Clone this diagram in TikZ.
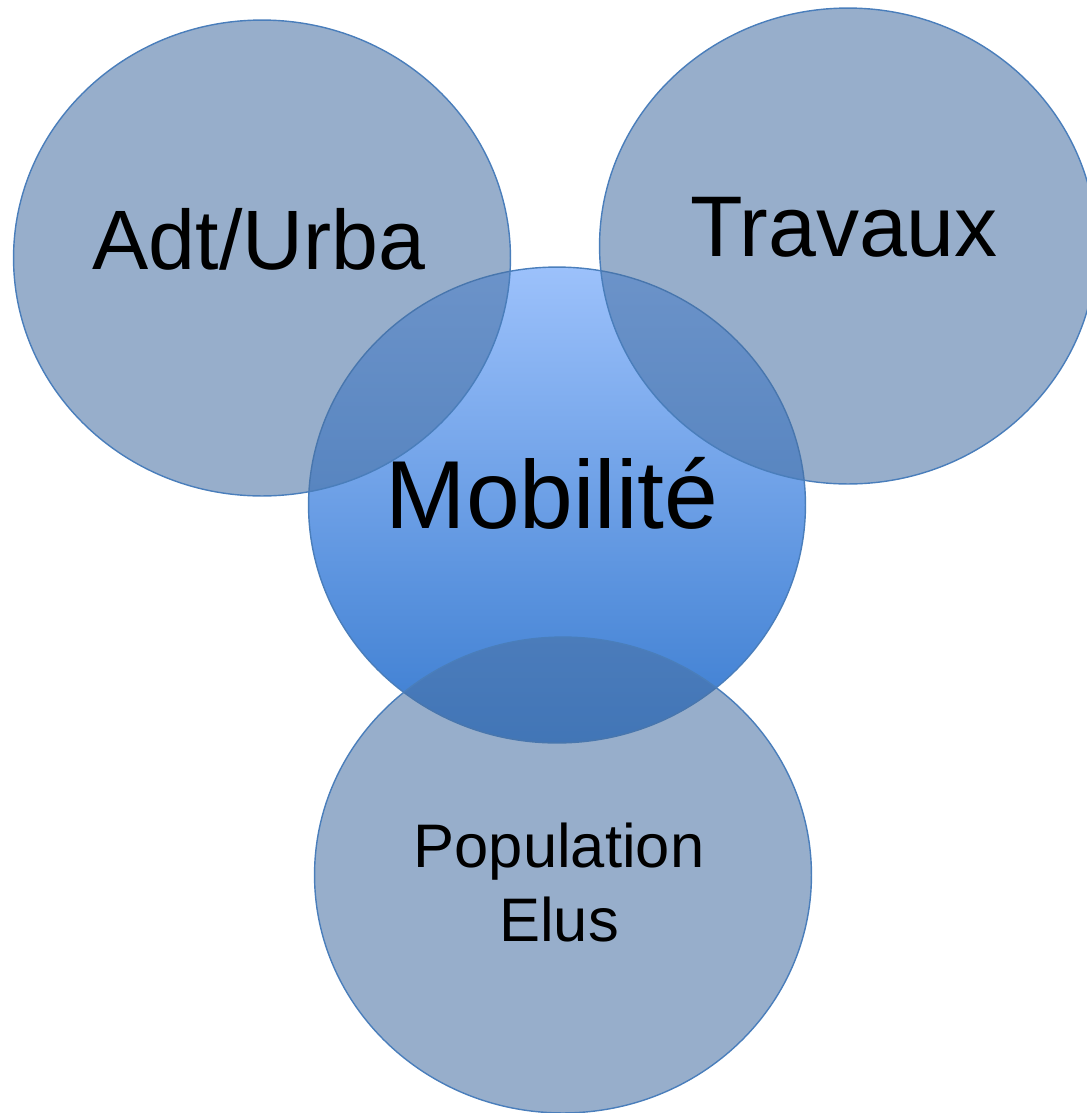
\documentclass[tikz,border=0pt]{standalone}
\usepackage{fontspec}
\setmainfont{Liberation Sans}
\usepackage{tikz}
\usetikzlibrary{shapes,positioning,calc}
\definecolor{vennfill}{RGB}{72,113,164}
\definecolor{vennline}{RGB}{74,126,187}
\definecolor{mobtop}{RGB}{156,193,251}
\definecolor{mobmid}{RGB}{125,168,238}
\definecolor{mobbottom}{RGB}{58,124,208}
\tikzset{
    bubble/.style={ellipse, draw=vennline, line width=0.8pt, fill=vennfill, fill opacity=0.57, inner sep=0pt, minimum width=9.94cm, minimum height=9.52cm},
    hub/.style={ellipse, draw=vennline, line width=0.8pt, top color=mobtop, middle color=mobmid, bottom color=mobbottom, inner sep=0pt, minimum width=9.94cm, minimum height=9.52cm},
    label/.style={anchor=base, text=black, inner sep=0pt, align=center}
}

\begin{document}
\begin{tikzpicture}[x=0.02cm, y=-0.02cm]
    \useasboundingbox (0,0) rectangle (1086,1113);

    % Central circle
    \node [hub] (mob) at (557,505) {};

    % Surrounding circles
    \node [bubble] (adt) at (262,258) {};
    \node [bubble] (trav) at (848,246) {};
    \node [bubble] (pop) at (563,875) {};

    % Labels
    \node [label, font=\fontsize{48}{54}\selectfont] (adtText) at ([shift={(-3,11)}]adt) {Adt/Urba};
    \node [label, font=\fontsize{49}{55}\selectfont] (travText) at ([shift={(-4,10)}]trav) {Travaux};
    \node [label, font=\fontsize{55}{62}\selectfont] (mobText) at ([shift={(-5,23)}]mob) {Mobilité};
    \node [label, font=\fontsize{35}{42}\selectfont] (popText) at ([shift={(-4,66)}]pop) {Population\\Elus};
\end{tikzpicture}
\end{document}
